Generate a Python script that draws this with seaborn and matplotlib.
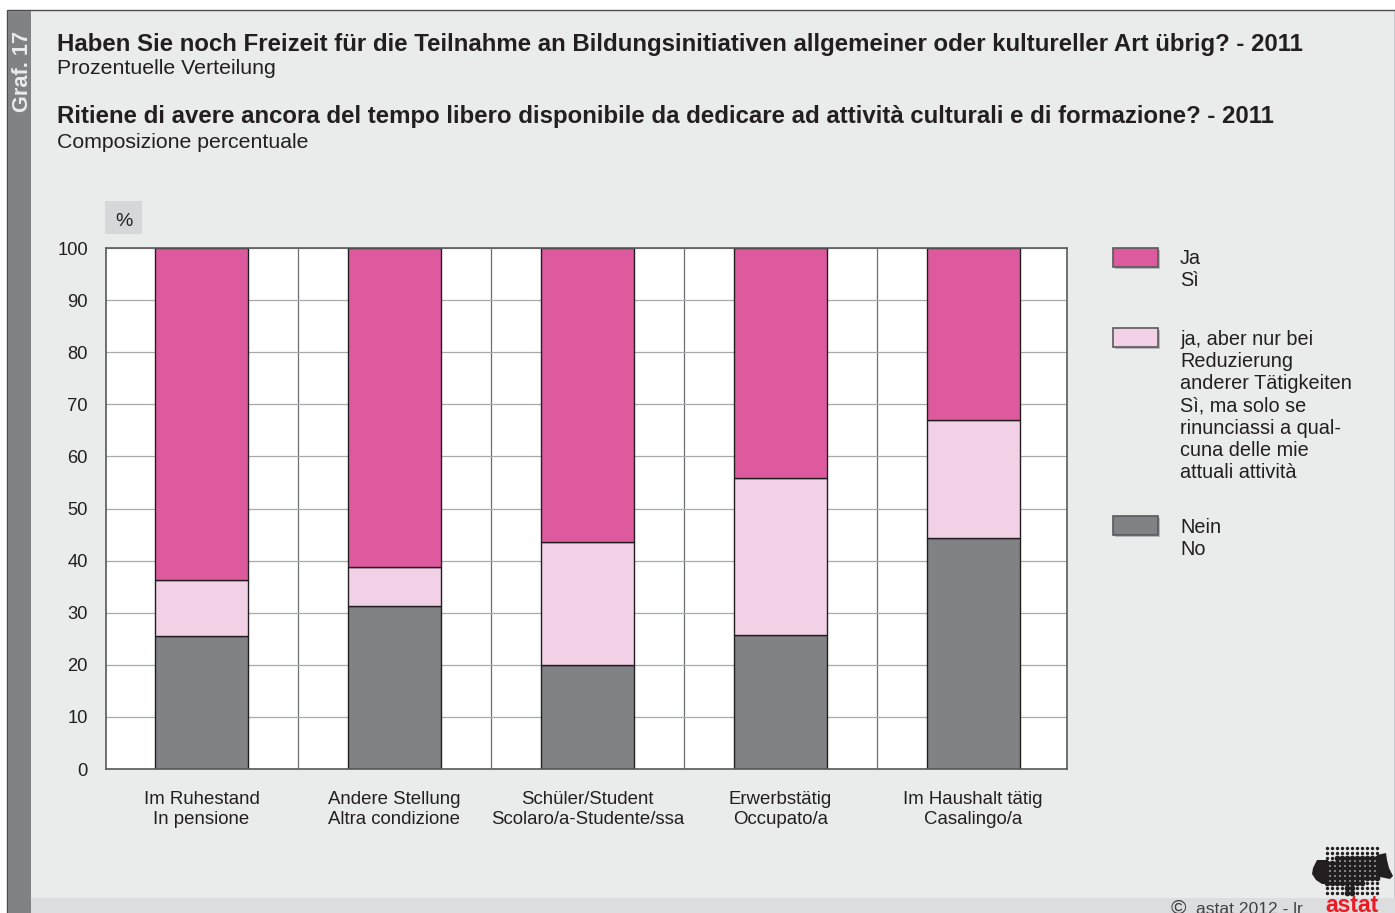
import numpy as np
import pandas as pd
import matplotlib.pyplot as plt
from matplotlib.patches import Rectangle, Polygon
from matplotlib.path import Path
import seaborn as sns

sns.set_theme(style="white")
plt.rcParams['font.family'] = ['Liberation Sans', 'DejaVu Sans']

categories = ["Im Ruhestand\nIn pensione", "Andere Stellung\nAltra condizione",
              "Schüler/Student\nScolaro/a-Studente/ssa", "Erwerbstätig\nOccupato/a",
              "Im Haushalt tätig\nCasalingo/a"]
nein = [25.5, 31.3, 20.0, 25.7, 44.3]
ja_aber = [10.8, 7.4, 23.5, 30.1, 22.7]
ja = [63.7, 61.3, 56.5, 44.2, 33.0]

legend_labels = ["Ja\nSì",
                 "ja, aber nur bei\nReduzierung\nanderer Tätigkeiten\nSì, ma solo se\n"
                 "rinunciassi a qual-\ncuna delle mie\nattuali attività",
                 "Nein\nNo"]

PINK = "#DE5A9F"
LIGHT = "#F2D1E6"
GREY = "#808285"
EDGE = "#231F20"
TXT = "#231F20"

df = pd.DataFrame({"cat": categories, "nein": nein, "ja_aber": ja_aber, "ja": ja})

W, H = 1395, 913
fig = plt.figure(figsize=(W / 100, H / 100), dpi=100, facecolor="white")

# background layer in pixel coordinates
bg = fig.add_axes([0, 0, 1, 1])
bg.set_xlim(0, W)
bg.set_ylim(H, 0)
bg.axis("off")
bg.add_patch(Rectangle((7, 10), W - 7, H - 10, fc="#EAECEC", ec="#4D4D4F", lw=1))
bg.add_patch(Rectangle((8, 11), 23, H - 11, fc=GREY, ec="none"))
bg.add_patch(Rectangle((31, 898), W - 31, 15, fc="#DCDDDE", ec="none"))
bg.add_patch(Rectangle((105, 201), 37, 33, fc="#D5D7D8", ec="none"))

bg.text(23, 71, "Graf. 17", color="#EAECEC", fontsize=15.7, fontweight="bold",
        rotation=90, ha="center", va="center")
bg.text(57, 44, "Haben Sie noch Freizeit für die Teilnahme an Bildungsinitiativen allgemeiner "
        "oder kultureller Art übrig? - 2011", fontsize=17.3, fontweight="bold", color=TXT, va="center")
bg.text(57, 68, "Prozentuelle Verteilung", fontsize=15.3, color=TXT, va="center")
bg.text(57, 116, "Ritiene di avere ancora del tempo libero disponibile da dedicare ad attività "
        "culturali e di formazione? - 2011", fontsize=17.3, fontweight="bold", color=TXT, va="center")
bg.text(57, 142, "Composizione percentuale", fontsize=15.3, color=TXT, va="center")
bg.text(124, 221, "%", fontsize=14, color=TXT, ha="center", va="center")

# chart
ax = fig.add_axes([106 / W, 1 - 769 / H, 961 / W, 521 / H], facecolor="white")
bar_kw = dict(width=0.482, edgecolor=EDGE, linewidth=1, ax=ax, legend=False)
sns.barplot(df, x="cat", y="nein", color=GREY, saturation=1, **bar_kw)
sns.barplot(df, x="cat", y="ja_aber", bottom=df["nein"], color=LIGHT, saturation=1, **bar_kw)
sns.barplot(df, x="cat", y="ja", bottom=df["nein"] + df["ja_aber"], color=PINK, saturation=1, **bar_kw)

ax.set_xlim(-0.495, 4.487)
ax.set_ylim(0, 100)
ax.set_yticks(range(0, 101, 10))
ax.set_xlabel("")
ax.set_ylabel("")
ax.set_axisbelow(True)
ax.grid(axis="y", color="#A7A9AC", lw=0.9)
for v in np.arange(0.5, 4, 1):
    ax.axvline(v, color="#6D6E71", lw=0.9, zorder=0.5)
for s in ax.spines.values():
    s.set_color("#58595B")
    s.set_linewidth(1.2)
ax.tick_params(axis="y", length=0, pad=13, labelsize=13.2, labelcolor=TXT)
ax.tick_params(axis="x", length=0, pad=16, labelsize=13.4, labelcolor=TXT)
for lab in ax.get_xticklabels():
    lab.set_linespacing(1.2)

# legend
legend_y = [248, 328, 516]
legend_text_y = [249, 330, 518]
for y, ty, c, lab in zip(legend_y, legend_text_y, [PINK, LIGHT, GREY], legend_labels):
    bg.add_patch(Rectangle((1115, y + 2), 45, 19, fc="#B5B7B9", ec="none"))
    bg.add_patch(Rectangle((1112.5, y), 45, 19, fc=c, ec="#58595B", lw=1.2))
    bg.text(1180, ty, lab, fontsize=14.3, color=TXT, va="top", linespacing=1.21)

# footer and logo
bg.text(1178, 908, "©", fontsize=15, color="#414042", ha="center", va="center")
bg.text(1196, 909, "astat 2012 - lr", fontsize=12.6, color="#414042", va="center")

logo_outline = [(1327, 860), (1340, 857), (1358, 855), (1378, 855), (1378, 880), (1368, 882),
                (1362, 886), (1354, 888), (1352, 897), (1347, 897), (1344, 887), (1335, 884),
                (1327, 884)]
bg.add_patch(Polygon([(1328, 860), (1317, 860), (1313, 868), (1312, 874), (1316, 880), (1322, 884),
                      (1328, 884)], fc="#231F20", ec="none"))
bg.add_patch(Polygon([(1377, 855), (1386, 853), (1387, 860), (1389, 868), (1393, 876), (1390, 879),
                      (1380, 877), (1377, 879)], fc="#231F20", ec="none"))
gx, gy = np.meshgrid(np.arange(1327, 1379, 5.05), np.arange(848, 897, 5.05))
pts = np.column_stack([gx.ravel(), gy.ravel()])
inside = Path(logo_outline).contains_points(pts)
bg.scatter(pts[:, 0], pts[:, 1], s=6, color="#231F20", linewidths=0)
bg.scatter(pts[inside, 0], pts[inside, 1], s=17, color="#231F20", linewidths=0)
bg.text(1352, 906, "astat", fontsize=16.5, fontweight="bold", color="#ED1C24", ha="center",
        va="center")

fig.savefig("out.png", dpi=100, facecolor=fig.get_facecolor())
